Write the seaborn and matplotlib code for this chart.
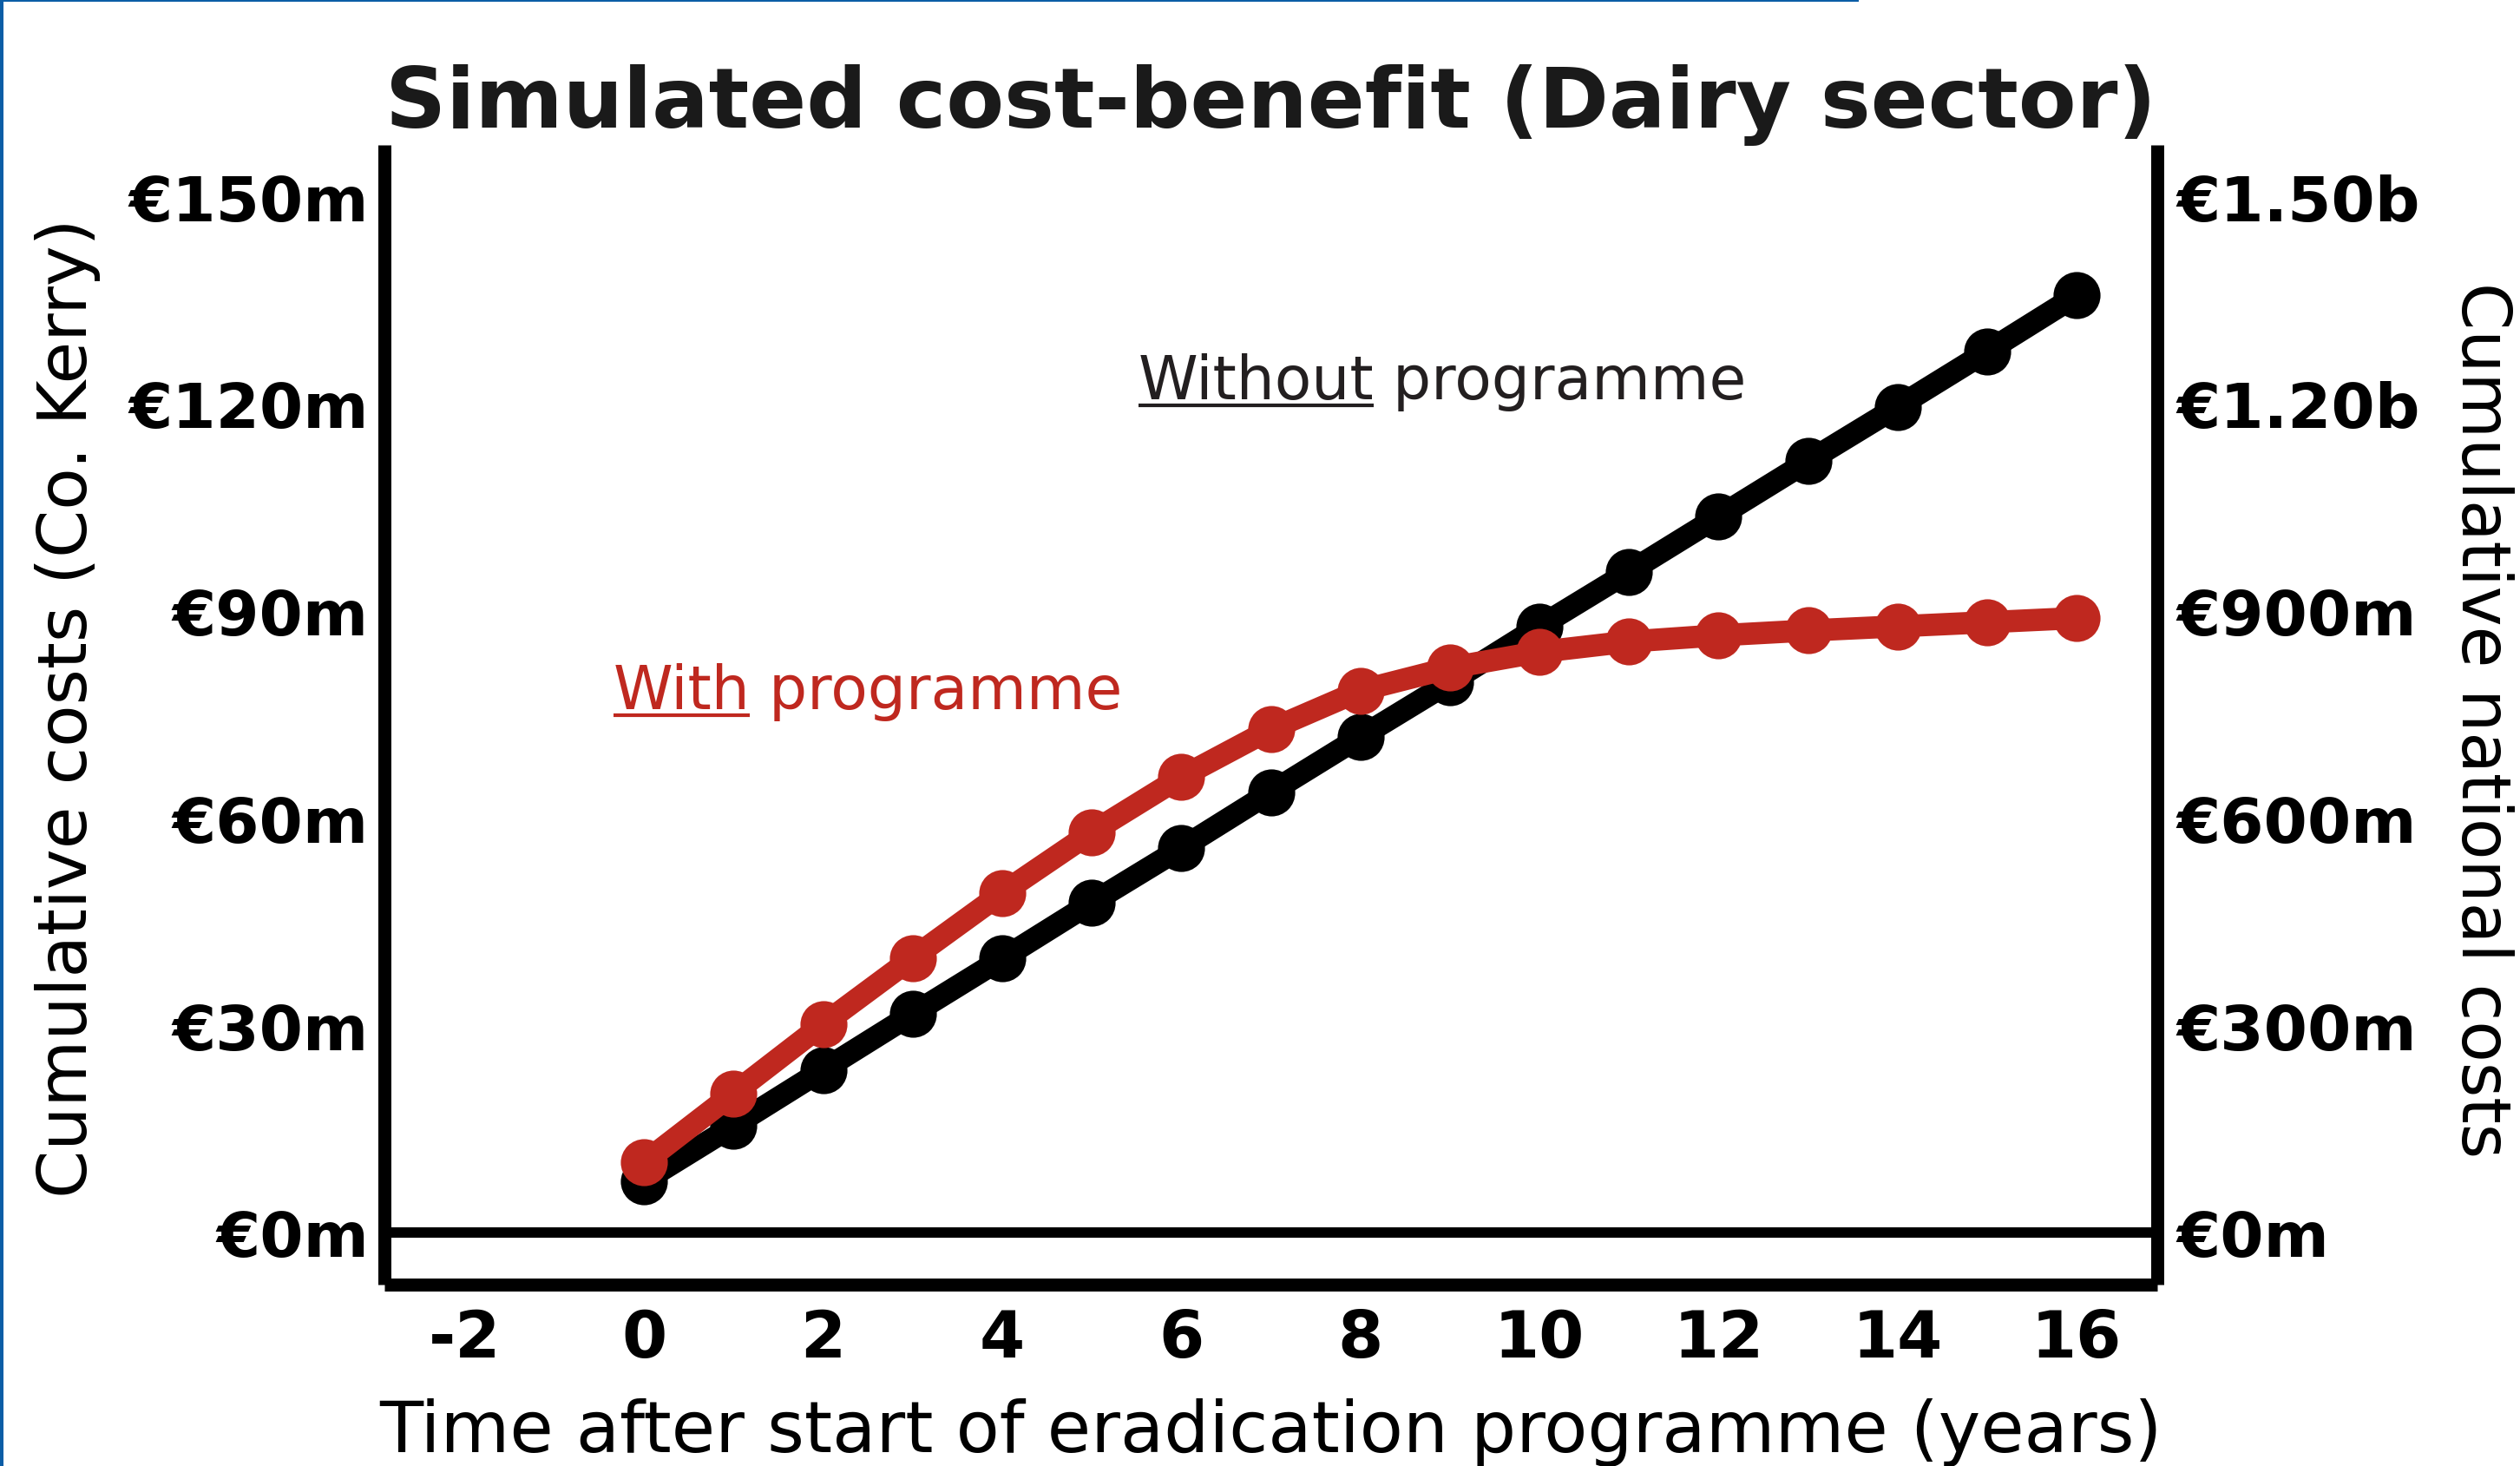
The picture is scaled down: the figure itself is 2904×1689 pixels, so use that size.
import numpy as np
import pandas as pd
import matplotlib
matplotlib.use("Agg")
import matplotlib.pyplot as plt
import seaborn as sns
from matplotlib.lines import Line2D
from matplotlib.patches import Rectangle

# ---------------- data ----------------
years = list(range(0, 17))
without_programme = [7.5, 15.5, 23.6, 31.7, 39.7, 47.8, 55.7, 63.8, 71.8,
                     79.7, 87.8, 95.7, 103.7, 111.7, 119.6, 127.6, 135.7]
with_programme = [10.2, 20.2, 30.2, 39.8, 49.2, 58.0, 66.0, 72.9, 78.5,
                  81.8, 84.1, 85.6, 86.5, 87.2, 87.8, 88.4, 89.0]
x_ticks = [-2, 0, 2, 4, 6, 8, 10, 12, 14, 16]
left_ticks = [0, 30, 60, 90, 120, 150]
left_labels = ["€0m", "€30m", "€60m", "€90m", "€120m", "€150m"]
right_ticks = [0, 300, 600, 900, 1200, 1500]
right_labels = ["€0m", "€300m", "€600m", "€900m", "€1.20b", "€1.50b"]

title = "Simulated cost-benefit (Dairy sector)"
xlabel = "Time after start of eradication programme (years)"
ylabel_left = "Cumulative costs (Co. Kerry)"
ylabel_right = "Cumulative national costs"

RED = "#BF281F"
DARK = "#231F20"
BLUE = "#0B5DA6"

df = pd.DataFrame({
    "year": years * 2,
    "cost": without_programme + with_programme,
    "scenario": ["Without"] * len(years) + ["With"] * len(years),
})

# ---------------- style ----------------
sns.set_style("white")
plt.rcParams["font.family"] = ["DejaVu Sans"]

W, H = 2904, 1690
fig = plt.figure(figsize=(W / 100, H / 100), dpi=100)
fig.patch.set_facecolor("white")
ax = fig.add_axes([443 / W, 209 / H, 2043 / W, 1313 / H])

sns.lineplot(data=df, x="year", y="cost", hue="scenario",
             hue_order=["Without", "With"],
             palette={"Without": "black", "With": RED},
             marker="o", markersize=39, markeredgewidth=0,
             linewidth=18.5, errorbar=None, legend=False, ax=ax, zorder=3)

ax.axhline(0, color="black", lw=8.6, zorder=2)

ax.set_xlim(-2.9, 16.9)
ax.set_ylim(-7.5, 157.5)
ax.set_xticks(x_ticks, labels=[str(v) for v in x_ticks],
              fontsize=54, fontweight="bold")
ax.set_yticks(left_ticks, labels=left_labels, fontsize=52, fontweight="bold")
ax.tick_params(axis="x", length=0, pad=19, colors="black")
ax.tick_params(axis="y", length=0, pad=13, colors="black")

for side in ["left", "right", "bottom"]:
    ax.spines[side].set_visible(True)
    ax.spines[side].set_linewidth(10.8)
    ax.spines[side].set_color("black")
    ax.spines[side].set_capstyle("butt")
ax.spines["top"].set_visible(False)

ax2 = ax.twinx()
ax2.set_ylim(-75, 1575)
ax2.set_yticks(right_ticks, labels=right_labels, fontsize=52, fontweight="bold")
ax2.tick_params(axis="y", length=0, pad=16, colors="black")
for s in ax2.spines.values():
    s.set_visible(False)

# labels
ax.set_xlabel(xlabel, fontsize=59, color="black", va="baseline")
ax.xaxis.set_label_coords(0.5, -0.1462)
ax.set_ylabel(ylabel_left, fontsize=57, color="black", va="baseline")
ax.yaxis.set_label_coords(-0.1679, 0.5065)
ax2.yaxis.set_label_position("right")
ax2.set_ylabel(ylabel_right, fontsize=56, color="black", rotation=270)
ax2.yaxis.label.set_rotation_mode("anchor")
ax2.yaxis.label.set_verticalalignment("baseline")
ax2.yaxis.label.set_horizontalalignment("center")
ax2.yaxis.set_label_coords(1.1718, 0.4958)

ax.set_title(title, fontsize=70, fontweight="bold", color="#1a1a1a",
             y=1.016, pad=0)

# blue border lines (page frame)
fig.add_artist(Rectangle((0, 0), 4 / W, 1, transform=fig.transFigure,
                         color=BLUE, lw=0))
fig.add_artist(Rectangle((0, 1 - 3 / H), 2142 / W, 3 / H,
                         transform=fig.transFigure, color=BLUE, lw=0))


def underlined(x, y, first, rest, color, size):
    t1 = ax.text(x, y, first, color=color, fontsize=size,
                 ha="left", va="baseline", zorder=5)
    fig.canvas.draw()
    r = fig.canvas.get_renderer()
    bb = t1.get_window_extent(renderer=r)
    base = ax.transData.transform((x, y))
    xr, yr = ax.transData.inverted().transform((bb.x1, base[1]))
    ax.text(xr, yr, rest, color=color, fontsize=size,
            ha="left", va="baseline", zorder=5)
    uy = base[1] - 8
    p0 = fig.transFigure.inverted().transform((bb.x0, uy))
    p1 = fig.transFigure.inverted().transform((bb.x1, uy))
    fig.add_artist(Line2D([p0[0], p1[0]], [p0[1], p1[1]], color=color,
                          lw=3.0, solid_capstyle="butt",
                          transform=fig.transFigure))


underlined(5.52, 120.8, "Without", " programme", DARK, 50)
underlined(-0.346, 75.97, "With", " programme", RED, 50)

fig.savefig("out.png", dpi=100, facecolor="white")
